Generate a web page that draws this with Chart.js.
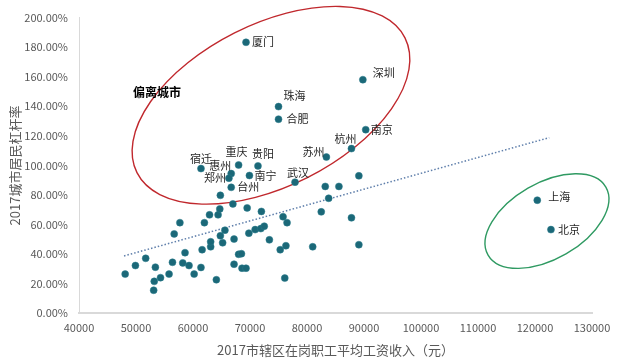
<!DOCTYPE html>
<html>
<head>
<meta charset="utf-8">
<script src="https://cdn.jsdelivr.net/npm/chart.js@4/dist/chart.umd.min.js"></script>
<style>
  html, body { margin: 0; padding: 0; background: #ffffff; }
  #wrap { width: 634px; height: 361px; position: relative; }
</style>
</head>
<body>
<div id="wrap"><canvas id="c" width="634" height="361"></canvas></div>
<script>
// ---- Data ----
const namedCities = ['厦门','珠海','合肥','深圳','南京','杭州','苏州','武汉','宿迁','重庆','贵阳','惠州','郑州','南宁','台州','上海','北京'];
const namedWages  = [69300, 75000, 75000, 89800, 90300, 87800, 83400, 77900, 61400, 68000, 71400, 66700, 66300, 69900, 66700, 120400, 122800];
const namedRatios = [183.3, 139.8, 131.3, 158.0, 124.2, 111.4, 105.7, 88.7, 97.9, 100.3, 99.7, 94.5, 91.4, 93.2, 85.2, 76.5, 56.6];

const otherWages = [48100, 49900, 51700, 53400, 53200, 54300, 53100, 55800, 56400, 56700,
                    57700, 58200, 58600, 59300, 60200, 61400, 61600, 62000, 62900, 63100,
                    63100, 64100, 64400, 64700, 64800, 64800, 65200, 65600, 67000, 67200,
                    67200, 68000, 68500, 68600, 69300, 69500, 69800, 70900, 71900, 72000,
                    72500, 73400, 75300, 75800, 76300, 76500, 76100, 81000, 82500, 83200,
                    85600, 83800, 87800, 89100, 89100];
const otherRatios = [26.5, 32.3, 37.2, 31.2, 21.6, 24.1, 15.6, 26.5, 34.5, 53.7,
                     61.3, 34.1, 41.0, 32.3, 26.5, 31.0, 43.0, 61.3, 66.6, 45.0,
                     48.4, 22.7, 66.6, 70.6, 79.8, 52.4, 47.7, 56.2, 74.0, 50.2,
                     33.2, 39.9, 40.3, 30.5, 30.5, 71.3, 54.2, 56.6, 57.3, 68.9,
                     58.9, 49.7, 43.0, 65.3, 45.7, 61.3, 23.8, 45.0, 68.6, 85.8,
                     85.8, 77.8, 64.6, 93.0, 46.4];

const trendWages  = [47900, 122500];
const trendRatios = [38.8, 118.8];

const xTicks = [40000, 50000, 60000, 70000, 80000, 90000, 100000, 110000, 120000, 130000];
const yTicks = [0, 20, 40, 60, 80, 100, 120, 140, 160, 180, 200];

const xTitle = '2017市辖区在岗职工平均工资收入（元）';
const yTitle = '2017城市居民杠杆率';
const groupLabel = '偏离城市';

// ---- Label placement (style, not data) ----
const labelPlace = {
  '厦门': [6, 0, 'left'],  '珠海': [5, -11, 'left'], '合肥': [8, 0, 'left'],
  '深圳': [10, -7, 'left'], '南京': [5, 0, 'left'],  '杭州': [-17, -10, 'left'],
  '苏州': [-2, -5, 'right'], '武汉': [-8, -9, 'left'], '宿迁': [-11, -10, 'left'],
  '重庆': [-13, -13, 'left'], '贵阳': [-6, -12, 'left'], '惠州': [0, -8, 'right'],
  '郑州': [-3, 0, 'right'], '南宁': [5, 0, 'left'], '台州': [6, -1, 'left'],
  '上海': [11, -3, 'left'], '北京': [7, 0, 'left']
};

const FONT = '"Microsoft YaHei", "Noto Sans CJK SC", "Noto Sans", sans-serif';

const namedPts = namedWages.map((w, i) => ({x: w, y: namedRatios[i]}));
const otherPts = otherWages.map((w, i) => ({x: w, y: otherRatios[i]}));
const trendPts = trendWages.map((w, i) => ({x: w, y: trendRatios[i]}));

const POINT = '#1b6878';

const annotPlugin = {
  id: 'annot',
  beforeDatasetsDraw(chart) {
    const {ctx, scales: {x, y}} = chart;
    const ellipses = [
      {cx: 73680, cy: 140.7, a: 150, b: 81, rot: -26.7, color: '#c0282d'},
      {cx: 122100, cy: 62.4, a: 68, b: 38, rot: -30, color: '#2f9a62'}
    ];
    ctx.save();
    ellipses.forEach(e => {
      ctx.beginPath();
      ctx.ellipse(x.getPixelForValue(e.cx), y.getPixelForValue(e.cy), e.a, e.b, e.rot * Math.PI / 180, 0, Math.PI * 2);
      ctx.strokeStyle = e.color;
      ctx.lineWidth = 1.4;
      ctx.stroke();
    });
    ctx.restore();
  },
  afterDatasetsDraw(chart) {
    const {ctx, scales: {x, y}} = chart;
    ctx.save();
    const meta = chart.getDatasetMeta(1);
    ctx.font = '11px ' + FONT;
    ctx.fillStyle = '#262626';
    ctx.textBaseline = 'middle';
    meta.data.forEach((pt, i) => {
      const name = namedCities[i];
      const p = labelPlace[name] || [6, 0, 'left'];
      ctx.textAlign = p[2];
      ctx.fillText(name, pt.x + p[0], pt.y + p[1]);
    });
    ctx.font = 'bold 12px ' + FONT;
    ctx.fillStyle = '#000000';
    ctx.textAlign = 'left';
    ctx.fillText(groupLabel, x.getPixelForValue(49470), y.getPixelForValue(149.4));
    ctx.restore();
  }
};

new Chart(document.getElementById('c'), {
  type: 'scatter',
  data: {
    datasets: [
      {
        label: 'other',
        data: otherPts,
        backgroundColor: POINT,
        borderColor: '#2b7d8c',
        borderWidth: 0.5,
        pointRadius: 3.5,
        order: 2
      },
      {
        label: 'named',
        data: namedPts,
        backgroundColor: POINT,
        borderColor: '#2b7d8c',
        borderWidth: 0.5,
        pointRadius: 3.5,
        order: 1
      },
      {
        label: 'trend',
        type: 'line',
        data: trendPts,
        showLine: true,
        borderColor: '#5f7fab',
        borderWidth: 1.5,
        borderDash: [1.5, 2],
        pointRadius: 0,
        fill: false,
        order: 3
      }
    ]
  },
  options: {
    responsive: false,
    animation: false,
    devicePixelRatio: 1,
    layout: { padding: { left: 0, right: 42, top: 14, bottom: 0 } },
    plugins: {
      legend: { display: false },
      tooltip: { enabled: false }
    },
    scales: {
      x: {
        type: 'linear',
        min: xTicks[0],
        max: xTicks[xTicks.length - 1],
        afterBuildTicks: s => { s.ticks = xTicks.map(v => ({value: v})); },
        afterFit: s => { s.height = 47.7; },
        grid: { display: false, drawTicks: false },
        border: { display: true, color: '#d9d9d9', width: 2 },
        ticks: {
          padding: 8,
          color: '#595959',
          font: { size: 11, family: FONT },
          maxRotation: 0,
          callback: v => String(v)
        },
        title: {
          display: true,
          text: xTitle,
          color: '#595959',
          font: { size: 13, family: FONT },
          padding: { top: 0, bottom: 3 }
        }
      },
      y: {
        type: 'linear',
        min: yTicks[0],
        max: yTicks[yTicks.length - 1],
        afterBuildTicks: s => { s.ticks = yTicks.map(v => ({value: v})); },
        afterFit: s => { s.width = 79; },
        grid: { display: false, drawTicks: false },
        border: { display: true, color: '#d9d9d9', width: 1 },
        ticks: {
          padding: 11,
          color: '#595959',
          font: { size: 11, family: FONT },
          callback: v => Number(v).toFixed(2) + '%'
        },
        title: {
          display: true,
          text: yTitle,
          color: '#595959',
          font: { size: 13, family: FONT },
          padding: { top: 7, bottom: 0 }
        }
      }
    }
  },
  plugins: [annotPlugin]
});
</script>
</body>
</html>
